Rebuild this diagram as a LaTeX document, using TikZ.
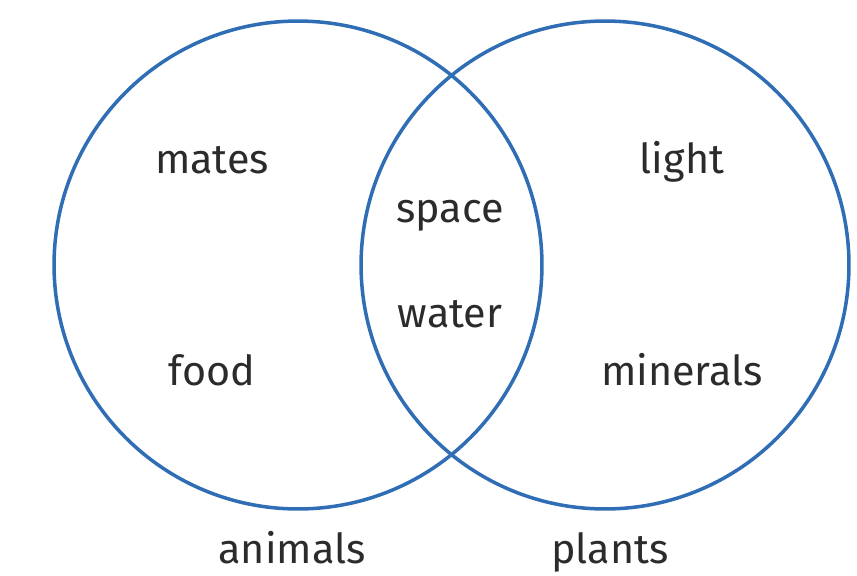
\documentclass[tikz,border=0pt]{standalone}
\usepackage{fontspec}
\setmainfont{Fira Sans}
\usepackage{xcolor}
\definecolor{vennblue}{HTML}{2F6DB5}
\definecolor{venntext}{HTML}{2B2B2B}

\begin{document}
\begin{tikzpicture}[x=0.02cm, y=-0.02cm,
    ring/.style={circle, draw=vennblue, line width=2pt, minimum size=9.76cm, inner sep=0pt},
    word/.style={text=venntext, anchor=base, font=\fontsize{23.5}{28}\selectfont}]
        \useasboundingbox (0,0) rectangle (857,575);
        % the two sets
        \node[ring] (animalset) at (298,265) {};
        \node[ring] (plantset) at (605,265) {};
        % animals only
        \node[word] (mates) at (212,173) {mates};
        \node[word] (food) at (212,385) {food};
        % both
        \node[word] (space) at (450,222) {space};
        \node[word] (water) at (450,327) {water};
        % plants only
        \node[word] (light) at (682,173) {light};
        \node[word] (minerals) at (682,385) {minerals};
        % set names
        \node[word] (animals) at (292,563) {animals};
        \node[word] (plants) at (610,563) {plants};
      \end{tikzpicture}
\end{document}
